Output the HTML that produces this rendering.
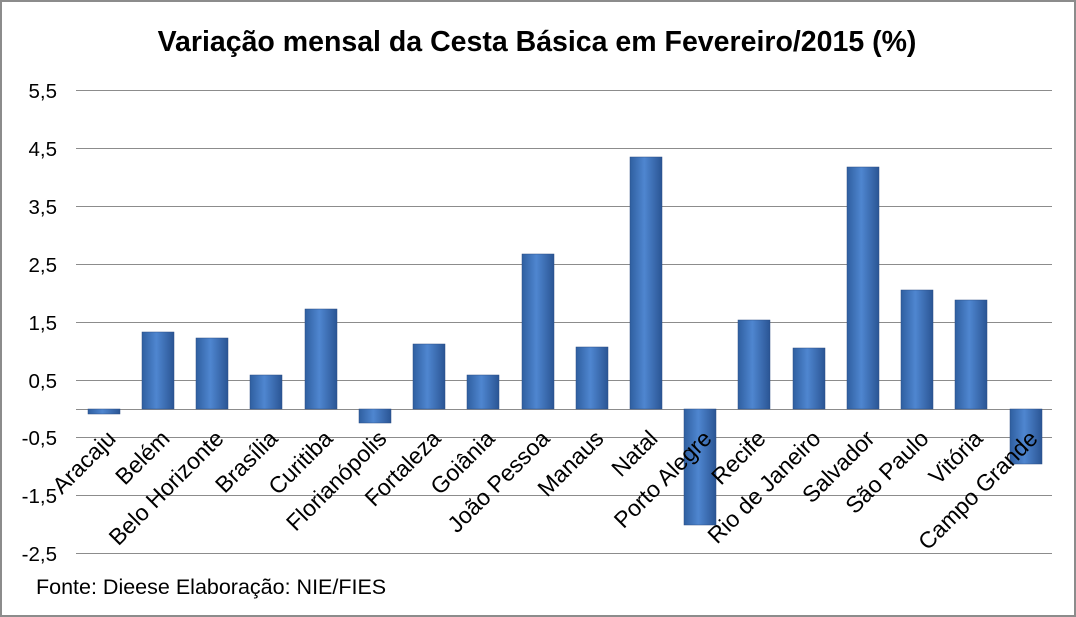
<!DOCTYPE html>
<html><head><meta charset="utf-8"><style>
html,body{margin:0;padding:0;background:#fff}
svg{display:block;font-family:"Liberation Sans",sans-serif}
</style></head><body>
<svg width="1076" height="617" viewBox="0 0 1076 617" xmlns="http://www.w3.org/2000/svg">
<defs>
<linearGradient id="g" x1="0" x2="1" y1="0" y2="0">
<stop offset="0" stop-color="#2f5fa0"/><stop offset="0.45" stop-color="#4f86d0"/><stop offset="1" stop-color="#2a5594"/>
</linearGradient>
</defs>
<rect x="1" y="1" width="1074" height="615" fill="#fff" stroke="#8c8c8c" stroke-width="2"/>
<text x="537" y="51" text-anchor="middle" font-size="28.5" font-weight="bold" fill="#000">Variação mensal da Cesta Básica em Fevereiro/2015 (%)</text>
<g stroke="#8c8c8c" stroke-width="1">
<line x1="76" x2="1052" y1="90.5" y2="90.5"/>
<line x1="76" x2="1052" y1="148.5" y2="148.5"/>
<line x1="76" x2="1052" y1="206.5" y2="206.5"/>
<line x1="76" x2="1052" y1="264.5" y2="264.5"/>
<line x1="76" x2="1052" y1="322.5" y2="322.5"/>
<line x1="76" x2="1052" y1="380.5" y2="380.5"/>
<line x1="76" x2="1052" y1="437.5" y2="437.5"/>
<line x1="76" x2="1052" y1="495.5" y2="495.5"/>
<line x1="76" x2="1052" y1="553.5" y2="553.5"/>
<line x1="76" x2="1052" y1="409.5" y2="409.5"/>
</g>
<g font-size="20.5" text-anchor="end" fill="#000">
<text x="57" y="98">5,5</text><text x="57" y="156">4,5</text><text x="57" y="214">3,5</text>
<text x="57" y="272">2,5</text><text x="57" y="330">1,5</text><text x="57" y="388">0,5</text>
<text x="57" y="445">-0,5</text><text x="57" y="503">-1,5</text><text x="57" y="561">-2,5</text>
</g>
<g fill="url(#g)" stroke="#2a4f85" stroke-width="0.5">
<rect x="88" y="409" width="32" height="5"/>
<rect x="142" y="332" width="32" height="77"/>
<rect x="196" y="338" width="32" height="71"/>
<rect x="250" y="375" width="32" height="34"/>
<rect x="305" y="309" width="32" height="100"/>
<rect x="359" y="409" width="32" height="14"/>
<rect x="413" y="344" width="32" height="65"/>
<rect x="467" y="375" width="32" height="34"/>
<rect x="522" y="254" width="32" height="155"/>
<rect x="576" y="347" width="32" height="62"/>
<rect x="630" y="157" width="32" height="252"/>
<rect x="684" y="409" width="32" height="116"/>
<rect x="738" y="320" width="32" height="89"/>
<rect x="793" y="348" width="32" height="61"/>
<rect x="847" y="167" width="32" height="242"/>
<rect x="901" y="290" width="32" height="119"/>
<rect x="955" y="300" width="32" height="109"/>
<rect x="1010" y="409" width="32" height="55"/>
</g>
<g font-size="23" text-anchor="end" fill="#000">
<text transform="translate(117,440) rotate(-45)">Aracaju</text>
<text transform="translate(171,440) rotate(-45)">Belém</text>
<text transform="translate(225,440) rotate(-45)">Belo Horizonte</text>
<text transform="translate(279,440) rotate(-45)">Brasília</text>
<text transform="translate(334,440) rotate(-45)">Curitiba</text>
<text transform="translate(388,440) rotate(-45)">Florianópolis</text>
<text transform="translate(442,440) rotate(-45)">Fortaleza</text>
<text transform="translate(496,440) rotate(-45)">Goiânia</text>
<text transform="translate(551,440) rotate(-45)">João Pessoa</text>
<text transform="translate(605,440) rotate(-45)">Manaus</text>
<text transform="translate(659,440) rotate(-45)">Natal</text>
<text transform="translate(713,440) rotate(-45)">Porto Alegre</text>
<text transform="translate(767,440) rotate(-45)">Recife</text>
<text transform="translate(822,440) rotate(-45)">Rio de Janeiro</text>
<text transform="translate(876,440) rotate(-45)">Salvador</text>
<text transform="translate(930,440) rotate(-45)">São Paulo</text>
<text transform="translate(984,440) rotate(-45)">Vitória</text>
<text transform="translate(1039,440) rotate(-45)">Campo Grande</text>
</g>
<text x="36" y="594" font-size="21.5" fill="#000">Fonte: Dieese  Elaboração: NIE/FIES</text>
</svg>
</body></html>
